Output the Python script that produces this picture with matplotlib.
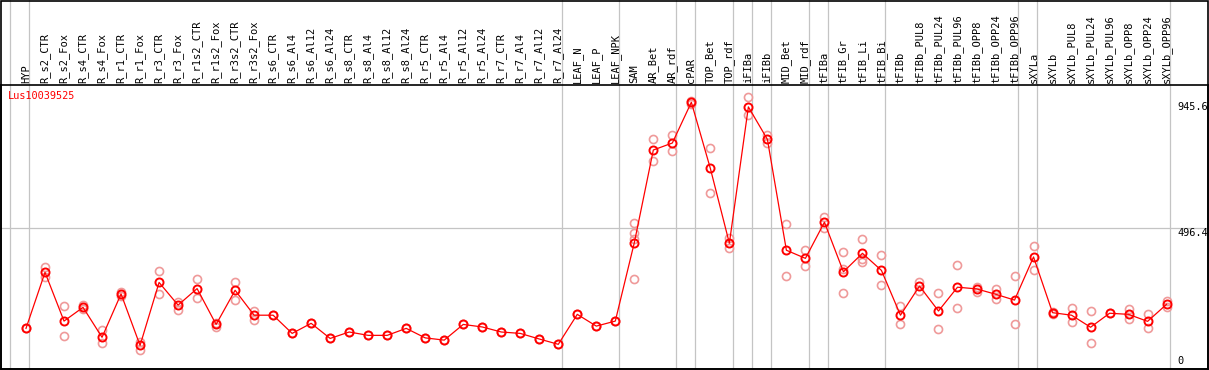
import matplotlib
matplotlib.use("Agg")
import matplotlib.pyplot as plt
from matplotlib.patches import Rectangle

gene = "Lus10039525"

samples = ["HYP", "R_s2_CTR", "R_s2_Fox", "R_s4_CTR", "R_s4_Fox", "R_r1_CTR", "R_r1_Fox",
           "R_r3_CTR", "R_r3_Fox", "R_r1s2_CTR", "R_r1s2_Fox", "R_r3s2_CTR", "R_r3s2_Fox",
           "R_s6_CTR", "R_s6_Al4", "R_s6_Al12", "R_s6_Al24", "R_s8_CTR", "R_s8_Al4",
           "R_s8_Al12", "R_s8_Al24", "R_r5_CTR", "R_r5_Al4", "R_r5_Al12", "R_r5_Al24",
           "R_r7_CTR", "R_r7_Al4", "R_r7_Al12", "R_r7_Al24", "LEAF_N", "LEAF_P", "LEAF_NPK",
           "SAM", "AR_Bet", "AR_rdf", "cPAR", "TOP_Bet", "TOP_rdf", "iFIBa", "iFIBb",
           "MID_Bet", "MID_rdf", "tFIBa", "tFIB_Gr", "tFIB_Li", "tFIB_Bi", "tFIBb",
           "tFIBb_PUL8", "tFIBb_PUL24", "tFIBb_PUL96", "tFIBb_OPP8", "tFIBb_OPP24",
           "tFIBb_OPP96", "sXYLa", "sXYLb", "sXYLb_PUL8", "sXYLb_PUL24", "sXYLb_PUL96",
           "sXYLb_OPP8", "sXYLb_OPP24", "sXYLb_OPP96"]

means = [138, 338, 164, 213, 106, 261, 77, 302, 221, 280, 152, 274, 185,
         185, 120, 156, 102, 125, 113, 113, 138, 104, 96, 152, 143,
         125, 120, 100, 81, 188, 146, 164,
         444, 775, 800, 945.6, 709, 442, 929, 813,
         417, 388, 517, 340, 406, 345, 185,
         289, 200, 285, 279, 260, 239,
         393, 194, 185, 142, 192, 188, 163, 224]

reps = [[138], [358, 322], [217, 110], [221, 207], [132, 85], [269, 254], [90, 61],
        [342, 260], [231, 204], [313, 245], [158, 143], [304, 240], [201, 168],
        [185], [120], [156], [102], [125], [113], [113], [138], [104], [96], [152], [143],
        [125], [120], [100], [81], [188], [146], [164],
        [515, 477, 456, 313], [813, 736], [829, 770], [950, 941], [781, 621], [462, 424],
        [963, 900], [829, 799],
        [510, 325], [417, 361], [537, 495], [410, 349, 264], [457, 385, 376], [401, 292],
        [218, 152],
        [305, 273], [263, 135], [363, 210], [287, 269], [280, 242], [324, 152],
        [431, 345], [198, 190], [212, 162], [200, 85], [192], [208, 171], [190, 140],
        [237, 213]]

# group separators sit just after these sample indices
group_ends = [-1, 0, 28, 31, 34, 35, 37, 38, 39, 41, 42, 45, 52, 53, 60]
ymax_label = 945.6
ymid_label = 496.4

W, H = 1209, 370
fig = plt.figure(figsize=(W / 100, H / 100), dpi=100)
top_px = 85
axh = H - top_px - 1.5
ax = fig.add_axes([1 / W, 1.5 / H, 1207 / W, axh / H])

step = 19.01
x0 = 26
ax.set_xlim((1 - x0) / step, (1208 - x0) / step)
ax.set_ylim((367 - 368.5) / 0.28, (367 - top_px) / 0.28)
ax.set_xticks([])
ax.set_yticks([])
for s in ax.spines.values():
    s.set_linewidth(1.2)
    s.set_color("black")

ext = 1 + (top_px + 1) / axh
grey = "#c4c4c4"
for g in group_ends:
    ax.axvline(g + 0.17, ymin=0, ymax=ext, color=grey, lw=0.9, clip_on=False, zorder=1)
ax.axhline(ymid_label, color=grey, lw=0.9, zorder=1)

xs = list(range(len(samples)))
for i, r in enumerate(reps):
    ax.plot([i] * len(r), r, "o", ms=5.8, mfc="none", mec="#ef9a9a", mew=1.2,
            zorder=2, clip_on=False)
ax.plot(xs, means, "-", color="red", lw=0.9, zorder=3)
ax.plot(xs, means, "o", ms=5.8, mfc="none", mec="red", mew=1.4, zorder=4)

mono = "DejaVu Sans Mono"
for i, s in enumerate(samples):
    ax.text(i, 1 + 2.5 / axh, s, rotation=90, ha="center", va="bottom",
            fontsize=7.5, family=mono, transform=ax.get_xaxis_transform(), clip_on=False)

ax.text(-0.95, 1 - 6 / axh, gene, color="red", fontsize=7.4, family=mono,
        ha="left", va="top", transform=ax.get_xaxis_transform())

lx = len(samples) - 1 + 0.55
ax.text(lx, ymax_label, f"{ymax_label}", fontsize=7.4, family=mono, ha="left", va="top")
ax.text(lx, ymid_label, f"{ymid_label}", fontsize=7.4, family=mono, ha="left", va="top")
ax.text(lx, 3, "0", fontsize=7.4, family=mono, ha="left", va="bottom")

fig.add_artist(Rectangle((0.6 / W, 0.6 / H), 1207.4 / W, 368.8 / H, fill=False,
                         ec="black", lw=1.2, transform=fig.transFigure))

fig.savefig("out.png", dpi=100)
